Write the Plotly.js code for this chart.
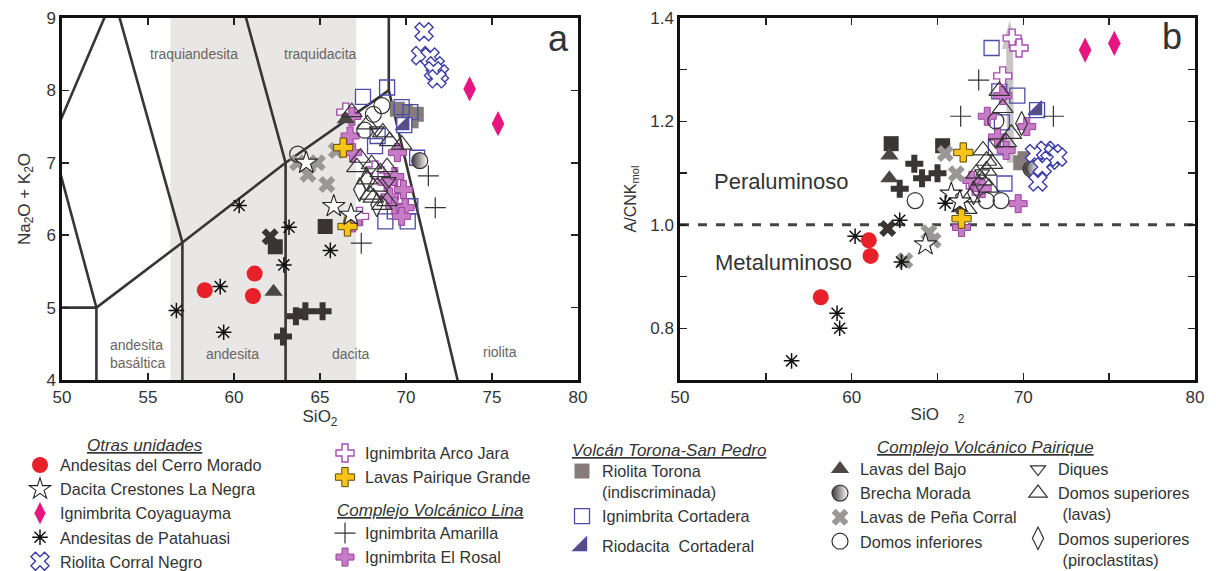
<!DOCTYPE html>
<html><head><meta charset="utf-8">
<script src="https://cdn.plot.ly/plotly-3.0.1.min.js"></script>
<style>html,body{margin:0;padding:0;background:#fff}</style>
</head><body><div id="chart" style="width:1216px;height:571px"></div>
<script>
// ---------- DATA (a: SiO2 vs Na2O+K2O ; b: SiO2 vs A/CNK) ----------
// Otras unidades
const cerroMoradoA_si = [58.3, 61.2, 61.1];        const cerroMoradoA_alk = [5.24, 5.47, 5.16];
const cerroMoradoB_si = [58.2, 61.0, 61.1];        const cerroMoradoB_acnk = [0.86, 0.97, 0.94];
const crestonesA_si = [64.2, 65.8, 66.8];          const crestonesA_alk = [7.0, 6.40, 6.28];
const crestonesB_si = [64.3, 65.8, 66.3];          const crestonesB_acnk = [0.962, 1.06, 1.045];
const coyaguaymaA_si = [73.7, 75.35];              const coyaguaymaA_alk = [8.02, 7.54];
const coyaguaymaB_si = [73.6, 75.3];               const coyaguaymaB_acnk = [1.338, 1.351];
const patahuasiA_si = [56.65, 59.2, 59.4, 60.3, 62.9, 63.2, 65.6];
const patahuasiA_alk = [4.96, 5.29, 4.66, 6.41, 5.59, 6.11, 5.79];
const patahuasiB_si = [56.5, 59.15, 59.3, 60.2, 62.9, 62.8, 65.45];
const patahuasiB_acnk = [0.737, 0.829, 0.80, 0.978, 0.928, 1.009, 1.042];
const corralNegroA_si = [71.05, 70.85, 71.4, 71.7, 71.95, 71.6, 71.8];
const corralNegroA_alk = [8.81, 8.48, 8.46, 8.34, 8.23, 8.27, 8.16];
const corralNegroB_si = [70.65, 71.3, 71.75, 71.55, 72.0, 70.85, 71.1];
const corralNegroB_acnk = [1.138, 1.144, 1.138, 1.125, 1.131, 1.083, 1.112];
// Ignimbrita Arco Jara / Lavas Pairique Grande
const arcoJaraA_si = [66.5, 67.3, 68.2, 69.6];     const arcoJaraA_alk = [7.70, 6.26, 6.90, 6.45];
const arcoJaraB_si = [69.35, 69.75, 68.8, 67.2];   const arcoJaraB_acnk = [1.361, 1.342, 1.288, 1.075];
const pairiqueA_si = [66.6, 66.35];                const pairiqueA_alk = [6.12, 7.21];
const pairiqueB_si = [66.5, 66.4];                 const pairiqueB_acnk = [1.14, 1.012];
// Complejo Volcánico Lina
const amarillaA_si = [71.3, 71.7, 67.4];           const amarillaA_alk = [6.82, 6.38, 5.89];
const amarillaB_si = [67.4, 66.35, 71.75];         const amarillaB_acnk = [1.28, 1.21, 1.21];
const elRosalA_si = [66.85, 66.75, 66.9, 69.5, 69.35, 68.9, 69.85, 69.05, 69.35, 69.95, 69.75, 66.9];
const elRosalA_alk = [7.64, 7.37, 7.14, 7.14, 6.81, 6.73, 6.63, 6.53, 6.40, 6.38, 6.26, 6.17];
const elRosalB_si = [68.8, 67.9, 70.2, 69.7, 66.4, 67.0, 69.0, 68.5, 67.6];
const elRosalB_acnk = [1.25, 1.21, 1.19, 1.041, 0.995, 1.086, 1.144, 1.17, 1.07];
// Volcán Torona-San Pedro
const toronaA_si = [69.5, 69.95, 70.6, 70.3];      const toronaA_alk = [7.74, 7.71, 7.67, 7.58];
const toronaB_si = [69.85, 70.1];                  const toronaB_acnk = [1.12, 1.128];
const cortaderaA_si = [67.5, 68.9, 69.75, 70.25, 68.35, 68.2, 70.65, 68.8, 70.1, 70.25, 69.35];
const cortaderaA_alk = [7.91, 8.04, 7.77, 7.70, 7.37, 7.23, 7.07, 6.19, 6.19, 6.40, 6.33];
const cortaderaB_si = [68.15, 68.6, 69.65, 68.75, 68.9, 68.4];
const cortaderaB_acnk = [1.342, 1.258, 1.25, 1.198, 1.08, 1.15];
const cortaderalA_si = [69.9];                     const cortaderalA_alk = [7.52];
const cortaderalB_si = [70.8];                     const cortaderalB_acnk = [1.222];
// Complejo Volcánico Pairique
const lavasBajoA_si = [62.3, 66.5];                const lavasBajoA_alk = [5.22, 7.60];
const lavasBajoB_si = [62.2, 62.2, 66.3];          const lavasBajoB_acnk = [1.134, 1.09, 1.032];
const brechaA_si = [70.8];                         const brechaA_alk = [7.03];
const brechaB_si = [70.45];                        const brechaB_acnk = [1.108];
const penaCorralA_si = [63.7, 64.85, 64.3, 65.4, 65.95];
const penaCorralA_alk = [7.0, 7.0, 6.84, 6.70, 7.17];
const penaCorralB_si = [63.1, 64.5, 64.75, 65.45, 66.1];
const penaCorralB_acnk = [0.931, 0.985, 0.97, 1.138, 1.099];
const domosInfA_si = [63.7, 68.6, 68.1, 67.6];     const domosInfA_alk = [7.12, 7.79, 7.67, 7.45];
const domosInfB_si = [63.7, 67.85, 68.7, 68.4, 70.65];
const domosInfB_acnk = [1.047, 1.047, 1.047, 1.201, 1.109];
const diquesA_si = [68.3, 69.0];                   const diquesA_alk = [7.45, 6.75];
const diquesB_si = [68.4, 67.6];                   const diquesB_acnk = [1.16, 1.10];
const domosSupLavA_si = [66.85, 67.75, 68.65, 69.05, 67.35, 68.0, 67.15, 68.9, 68.5, 67.75, 68.35, 67.9, 68.1, 68.9, 68.6, 69.75];
const domosSupLavA_alk = [7.70, 7.53, 7.42, 7.30, 7.07, 6.98, 6.94, 6.94, 6.87, 6.77, 6.67, 6.56, 6.52, 6.47, 6.42, 7.25];
const domosSupLavB_si = [68.6, 68.8, 69.3, 67.65, 67.85, 67.25, 67.6, 68.0, 66.9, 66.7, 67.85, 68.2, 69.0];
const domosSupLavB_acnk = [1.259, 1.226, 1.176, 1.144, 1.124, 1.099, 1.086, 1.072, 1.053, 1.031, 1.105, 1.118, 1.16];
const domosSupPirA_si = [67.3, 68.3, 67.7];        const domosSupPirA_alk = [6.63, 6.42, 6.78];
const domosSupPirB_si = [69.9, 67.1];              const domosSupPirB_acnk = [1.196, 1.062];
// dark symbols without legend entry
const darkSqA_si = [62.4, 65.3];                   const darkSqA_alk = [5.84, 6.12];
const darkSqB_si = [62.3, 65.3];                   const darkSqB_acnk = [1.157, 1.153];
const darkCrossA_si = [63.6, 64.15, 65.15, 62.85]; const darkCrossA_alk = [4.88, 4.95, 4.95, 4.60];
const darkCrossB_si = [63.65, 64.1, 65.0, 62.8];   const darkCrossB_acnk = [1.118, 1.09, 1.10, 1.07];
const darkXA_si = [62.1];                          const darkXA_alk = [5.98];
const darkXB_si = [62.1];                          const darkXB_acnk = [0.993];

// TAS classification boundaries (Le Bas et al., 1986)
const tasX = [45, 52, 52, null, 52, 57, 63, 69, null, 57, 57, 53, null, 63, 63, 57.6, null, 77, 69, 69, null, 52, 49.4, 53];
const tasY = [5, 5, 0, null, 5, 5.9, 7, 8, null, 0, 5.9, 9.3, null, 0, 7, 11.7, null, 0, 8, 13, null, 5, 7.3, 9.3];
const tasLabels = ['traquiandesita', 'traquidacita', 'andesita<br>basáltica', 'andesita', 'dacita', 'riolita'];
const tasLabelX = [57.7, 65.0, 54.4, 59.9, 66.8, 75.45];
const tasLabelY = [8.5, 8.5, 4.36, 4.36, 4.36, 4.38];
const shadeSi = [56.3, 67.1];
const acnkLimit = 1.0;
const trendSi = [69.25, 69.2];
const trendAcnk = [1.12, 1.395];

// ---------- TRACES ----------
const FONT = 'Liberation Sans, Arial, sans-serif';
const traces = [];
traces.push({x: tasX, y: tasY, xaxis: 'x', yaxis: 'y', mode: 'lines', connectgaps: false,
  line: {color: '#3a3434', width: 2.6}, showlegend: false, hoverinfo: 'skip'});

let rank = 0;
function series(name, ax, ay, bx, by, marker, legend, show) {
  rank += 1;
  traces.push({name: name, x: ax, y: ay, xaxis: 'x', yaxis: 'y', mode: 'markers', type: 'scatter',
    marker: marker, legend: legend, legendgroup: name, legendrank: rank, showlegend: show !== false});
  traces.push({name: name, x: bx, y: by, xaxis: 'x2', yaxis: 'y2', mode: 'markers', type: 'scatter',
    marker: marker, legendgroup: name, showlegend: false});
}
const ln = (c, w) => ({color: c, width: w});

// hidden dark symbols
series('cuadrados oscuros', darkSqA_si, darkSqA_alk, darkSqB_si, darkSqB_acnk, {symbol: 'square', size: 15, color: '#3b3434', line: ln('#3b3434', 0)}, 'legend', false);
series('cruces oscuras', darkCrossA_si, darkCrossA_alk, darkCrossB_si, darkCrossB_acnk, {symbol: 'cross', size: 15, color: '#3b3434', line: ln('#3b3434', 0)}, 'legend', false);
series('x oscuras', darkXA_si, darkXA_alk, darkXB_si, darkXB_acnk, {symbol: 'x', size: 15, color: '#3b3434', line: ln('#3b3434', 0)}, 'legend', false);

// column 3 (Volcán Torona-San Pedro)
series('Riolita Torona<br>(indiscriminada)', toronaA_si, toronaA_alk, toronaB_si, toronaB_acnk, {symbol: 'square', size: 15, color: '#877c7c', line: ln('#877c7c', 0)}, 'legend4');
series('Ignimbrita Cortadera', cortaderaA_si, cortaderaA_alk, cortaderaB_si, cortaderaB_acnk, {symbol: 'square-open', size: 15, color: '#4b4bab', line: ln('#4b4bab', 1.3)}, 'legend4');
traces.push({name: 'Riodacita  Cortaderal', x: cortaderalA_si, y: cortaderalA_alk, xaxis: 'x', yaxis: 'y', mode: 'markers', marker: {symbol: 'square', size: 15, color: '#ffffff', line: ln('#4b4bab', 1.3)}, showlegend: false});
traces.push({name: 'Riodacita  Cortaderal', x: cortaderalB_si, y: cortaderalB_acnk, xaxis: 'x2', yaxis: 'y2', mode: 'markers', marker: {symbol: 'square', size: 15, color: '#ffffff', line: ln('#4b4bab', 1.3)}, showlegend: false});
series('Riodacita  Cortaderal', cortaderalA_si, cortaderalA_alk, cortaderalB_si, cortaderalB_acnk, {symbol: 'triangle-se', size: 15, color: '#5b4d80', line: ln('#4b4bab', 1.3)}, 'legend7');

// column 2
series('Ignimbrita Arco Jara', arcoJaraA_si, arcoJaraA_alk, arcoJaraB_si, arcoJaraB_acnk, {symbol: 'cross', size: 15, color: '#ffffff', line: ln('#a34db3', 1.4)}, 'legend2');
series('Ignimbrita Amarilla', amarillaA_si, amarillaA_alk, amarillaB_si, amarillaB_acnk, {symbol: 'cross-thin-open', size: 15, color: '#333333', line: ln('#333333', 1.2)}, 'legend3');
series('Ignimbrita El Rosal', elRosalA_si, elRosalA_alk, elRosalB_si, elRosalB_acnk, {symbol: 'cross', size: 15, color: '#c77cc7', line: ln('#9b409f', 1)}, 'legend3');

// column 4/5 (Complejo Volcánico Pairique)
series('Lavas del Bajo', lavasBajoA_si, lavasBajoA_alk, lavasBajoB_si, lavasBajoB_acnk, {symbol: 'triangle-up', size: 16, color: '#4d4646', line: ln('#4d4646', 0)}, 'legend5');
series('Brecha Morada', brechaA_si, brechaA_alk, brechaB_si, brechaB_acnk, {symbol: 'circle', size: 16, color: '#3d3838', gradient: {type: 'horizontal', color: '#ffffff'}, line: ln('#3d3838', 1.2)}, 'legend5');
series('Lavas de Peña Corral', penaCorralA_si, penaCorralA_alk, penaCorralB_si, penaCorralB_acnk, {symbol: 'x', size: 15, color: '#9b9797', line: ln('#9b9797', 0)}, 'legend5');
series('Domos inferiores', domosInfA_si, domosInfA_alk, domosInfB_si, domosInfB_acnk, {symbol: 'circle-open', size: 16, color: '#333333', line: ln('#333333', 1.2)}, 'legend5');
series('Diques', diquesA_si, diquesA_alk, diquesB_si, diquesB_acnk, {symbol: 'triangle-down-open', size: 13, color: '#333333', line: ln('#333333', 1.2)}, 'legend6');
series('Domos superiores<br> (lavas)', domosSupLavA_si, domosSupLavA_alk, domosSupLavB_si, domosSupLavB_acnk, {symbol: 'triangle-up-open', size: 18, color: '#333333', line: ln('#333333', 1.2)}, 'legend6');
series('Domos superiores<br> (piroclastitas)', domosSupPirA_si, domosSupPirA_alk, domosSupPirB_si, domosSupPirB_acnk, {symbol: 'diamond-tall-open', size: 17, color: '#333333', line: ln('#333333', 1.2)}, 'legend6');

// column 2 (cont.)
series('Lavas Pairique Grande', pairiqueA_si, pairiqueA_alk, pairiqueB_si, pairiqueB_acnk, {symbol: 'cross', size: 16, color: '#f6c316', line: ln('#5e4c0c', 1)}, 'legend2');

// column 1 (Otras unidades)
series('Andesitas del Cerro Morado', cerroMoradoA_si, cerroMoradoA_alk, cerroMoradoB_si, cerroMoradoB_acnk, {symbol: 'circle', size: 16, color: '#e8202a', line: ln('#e8202a', 0)}, 'legend');
series('Dacita Crestones La Negra', crestonesA_si, crestonesA_alk, crestonesB_si, crestonesB_acnk, {symbol: 'star', size: 17, color: '#ffffff', line: ln('#222222', 1.1)}, 'legend');
series('Ignimbrita Coyaguayma', coyaguaymaA_si, coyaguaymaA_alk, coyaguaymaB_si, coyaguaymaB_acnk, {symbol: 'diamond-tall', size: 18, color: '#e5167f', line: ln('#e5167f', 0)}, 'legend');
series('Andesitas de Patahuasi', patahuasiA_si, patahuasiA_alk, patahuasiB_si, patahuasiB_acnk, {symbol: 'asterisk-open', size: 13, color: '#111111', line: ln('#111111', 1.5)}, 'legend');
series('Riolita Corral Negro', corralNegroA_si, corralNegroA_alk, corralNegroB_si, corralNegroB_acnk, {symbol: 'x', size: 16, color: '#ffffff', line: ln('#3c3ca8', 1.4)}, 'legend');

// ---------- LAYOUT ----------
const W = 1216, H = 571;
const px = v => v / W, py = v => 1 - v / H;
const tickFont = {family: FONT, size: 17, color: '#333'};
const axBase = {showgrid: false, zeroline: false, showline: true, linewidth: 2.6, linecolor: '#111',
  mirror: 'ticks', ticks: 'inside', ticklen: 7, tickwidth: 1.5, tickcolor: '#222', tickfont: tickFont, automargin: false};

const legBase = {bgcolor: 'rgba(0,0,0,0)', borderwidth: 0, font: {family: FONT, size: 16.2, color: '#333'},
  xanchor: 'left', yanchor: 'top', itemwidth: 30, tracegroupgap: 0, traceorder: 'normal', itemclick: false, itemdoubleclick: false};

const hdr = (t, x, y) => ({text: '<i><u>' + t + '</u></i>', xref: 'paper', yref: 'paper', x: px(x), y: py(y),
  xanchor: 'center', yanchor: 'middle', showarrow: false, font: {family: FONT, size: 17, color: '#333'}});

const annotations = [];
tasLabels.forEach((t, i) => annotations.push({text: t, x: tasLabelX[i], y: tasLabelY[i], xref: 'x', yref: 'y',
  showarrow: false, font: {family: FONT, size: 14, color: '#6a6464'}, align: 'left'}));
annotations.push({text: 'a', x: 78.85, y: 8.72, xref: 'x', yref: 'y', showarrow: false, font: {family: FONT, size: 36, color: '#333'}});
annotations.push({text: 'b', x: 78.65, y: 1.365, xref: 'x2', yref: 'y2', showarrow: false, font: {family: FONT, size: 36, color: '#333'}});
annotations.push({text: 'Peraluminoso', x: 55.9, y: 1.083, xref: 'x2', yref: 'y2', showarrow: false, font: {family: FONT, size: 22, color: '#333'}});
annotations.push({text: 'Metaluminoso', x: 56.0, y: 0.928, xref: 'x2', yref: 'y2', showarrow: false, font: {family: FONT, size: 22, color: '#333'}});
annotations.push(hdr('Otras unidades', 145, 445));
annotations.push(hdr('Complejo Volcánico Lina', 430, 510));
annotations.push(hdr('Volcán Torona-San Pedro', 669, 450));
annotations.push(hdr('Complejo Volcánico Pairique', 985, 447));

const shapes = [
  {type: 'rect', xref: 'x', yref: 'paper', x0: shadeSi[0], x1: shadeSi[1], y0: py(380), y1: py(18),
   fillcolor: '#e9e7e6', line: {width: 0}, layer: 'below'},
  {type: 'line', xref: 'x2', yref: 'y2', x0: 50, x1: 80, y0: acnkLimit, y1: acnkLimit,
   line: {color: '#444', width: 3, dash: 'dash'}, layer: 'below'},
  {type: 'line', xref: 'x2', yref: 'y2', x0: trendSi[0], x1: trendSi[1], y0: trendAcnk[0], y1: trendAcnk[1] - 0.05,
   line: {color: '#c9c6c6', width: 7}, layer: 'below'},
  {type: 'path', xref: 'x2', yref: 'y2', layer: 'below', fillcolor: '#c9c6c6', line: {width: 0},
   path: 'M ' + (trendSi[1] - 0.45) + ',' + (trendAcnk[1] - 0.055) + ' L ' + (trendSi[1] + 0.45) + ',' + (trendAcnk[1] - 0.055) + ' L ' + trendSi[1] + ',' + trendAcnk[1] + ' Z'}
];

const layout = {
  width: W, height: H, margin: {l: 0, r: 0, t: 0, b: 0, autoexpand: false}, paper_bgcolor: '#fff', plot_bgcolor: '#fff',
  font: {family: FONT, color: '#333'},
  xaxis: Object.assign({}, axBase, {domain: [px(62), px(578)], range: [50, 80], dtick: 5, tick0: 50, anchor: 'y',
    title: {text: 'SiO<sub>2</sub>', font: {family: FONT, size: 17, color: '#333'}, standoff: 2}}),
  yaxis: Object.assign({}, axBase, {domain: [py(380), py(18)], range: [4, 9], dtick: 1, anchor: 'x',
    title: {text: 'Na<sub>2</sub>O + K<sub>2</sub>O', font: {family: FONT, size: 17, color: '#333'}, standoff: 12}}),
  xaxis2: Object.assign({}, axBase, {domain: [px(680), px(1195)], range: [50, 80], dtick: 10, tick0: 50, anchor: 'y2',
    minor: {dtick: 5, ticks: 'inside', ticklen: 7, tickwidth: 1.5, tickcolor: '#222'},
    title: {text: 'SiO    <sub>2</sub>', font: {family: FONT, size: 17, color: '#333'}, standoff: 2}}),
  yaxis2: Object.assign({}, axBase, {domain: [py(380), py(18)], range: [0.7, 1.4], dtick: 0.2, tick0: 0, tickformat: '.1f', anchor: 'x2',
    minor: {dtick: 0.1, ticks: 'inside', ticklen: 7, tickwidth: 1.5, tickcolor: '#222'},
    title: {text: 'A/CNK<sub>mol</sub>', font: {family: FONT, size: 16, color: '#333'}, standoff: 10}}),
  legend: Object.assign({}, legBase, {x: px(20), y: py(448)}),
  legend2: Object.assign({}, legBase, {x: px(325), y: py(436)}),
  legend3: Object.assign({}, legBase, {x: px(325), y: py(516)}),
  legend4: Object.assign({}, legBase, {x: px(562), y: py(454), valign: 'top'}),
  legend7: Object.assign({}, legBase, {x: px(562), y: py(529)}),
  legend5: Object.assign({}, legBase, {x: px(820), y: py(452)}),
  legend6: Object.assign({}, legBase, {x: px(1018), y: py(452), valign: 'top'}),
  annotations: annotations, shapes: shapes, showlegend: true
};

Plotly.newPlot('chart', traces, layout, {displayModeBar: false, staticPlot: true});
</script></body></html>
